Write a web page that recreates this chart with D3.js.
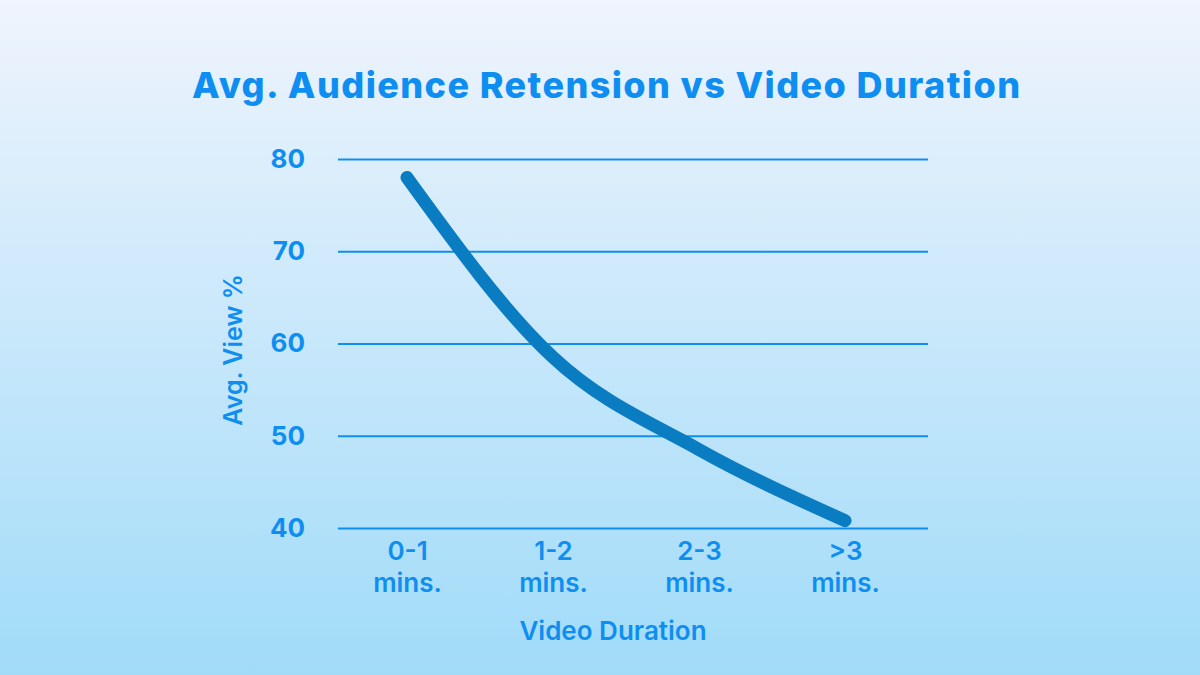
<!DOCTYPE html>
<html>
<head>
<meta charset="utf-8">
<script src="https://cdn.jsdelivr.net/npm/d3@7"></script>
<style>
  html, body { margin: 0; padding: 0; }
  body { width: 1200px; height: 675px; overflow: hidden; }
  svg { display: block; font-family: "Inter", "Noto Sans", sans-serif; }
</style>
</head>
<body>
<div id="chart"></div>
<script>
const categories = ['0-1 mins.', '1-2 mins.', '2-3 mins.', '>3 mins.'];
const retention = [78, 58.5, 48.5, 40.8];
const yTicks = [40, 50, 60, 70, 80];

const W = 1200, H = 675;
const blue = '#0f8ef2';

const svg = d3.select('#chart').append('svg')
  .attr('width', W)
  .attr('height', H);

const grad = svg.append('defs').append('linearGradient')
  .attr('id', 'bg')
  .attr('x1', 0).attr('y1', 0).attr('x2', 0).attr('y2', 1);
grad.append('stop').attr('offset', '0%').attr('stop-color', '#eff4fd');
grad.append('stop').attr('offset', '100%').attr('stop-color', '#a0dbf8');

svg.append('rect')
  .attr('width', W).attr('height', H)
  .attr('fill', 'url(#bg)');

svg.append('text')
  .attr('x', 606).attr('y', 98)
  .attr('text-anchor', 'middle')
  .attr('fill', blue)
  .attr('font-size', 36)
  .attr('font-weight', 800)
  .attr('textLength', 828)
  .text('Avg. Audience Retension vs Video Duration');

const x = d3.scalePoint()
  .domain(categories)
  .range([407, 845]);

const y = d3.scaleLinear()
  .domain([40, 80])
  .range([528, 159]);

// grid lines
const yAxis = d3.axisLeft(y)
  .tickValues(yTicks)
  .tickSize(-590)
  .tickPadding(33);

const gy = svg.append('g')
  .attr('transform', 'translate(338,0)')
  .call(yAxis);
gy.select('.domain').remove();
gy.selectAll('.tick line')
  .attr('stroke', blue)
  .attr('stroke-width', 2);
gy.selectAll('.tick text')
  .attr('fill', blue)
  .attr('font-size', 26)
  .attr('font-weight', 700)
  .attr('font-family', '"Inter", sans-serif');

// x labels, two lines each
const xAxis = d3.axisBottom(x).tickSize(0).tickPadding(0);
const gx = svg.append('g')
  .attr('transform', 'translate(0,551)')
  .call(xAxis);
gx.select('.domain').remove();
gx.selectAll('.tick text')
  .text(null)
  .attr('fill', blue)
  .attr('font-size', 26)
  .attr('font-weight', 600)
  .attr('font-family', '"Inter", sans-serif')
  .each(function(d) {
    const parts = d.split(' ');
    const t = d3.select(this);
    t.append('tspan').attr('x', 0).attr('dy', '0.35em').text(parts[0]);
    t.append('tspan').attr('x', 0).attr('dy', '1.22em').text(parts[1]);
  });

svg.append('text')
  .attr('x', 613).attr('y', 640)
  .attr('text-anchor', 'middle')
  .attr('fill', blue)
  .attr('font-size', 26)
  .attr('font-weight', 600)
  .text('Video Duration');

svg.append('text')
  .attr('transform', 'translate(242,350) rotate(-90)')
  .attr('text-anchor', 'middle')
  .attr('fill', blue)
  .attr('font-size', 25)
  .attr('font-weight', 600)
  .text('Avg. View %');

const line = d3.line()
  .x((d, i) => x(categories[i]))
  .y(d => y(d))
  .curve(d3.curveMonotoneX);

svg.append('path')
  .datum(retention)
  .attr('d', line)
  .attr('fill', 'none')
  .attr('stroke', '#0a7cc2')
  .attr('stroke-width', 13)
  .attr('stroke-linecap', 'round')
  .attr('stroke-linejoin', 'round');
</script>
</body>
</html>
